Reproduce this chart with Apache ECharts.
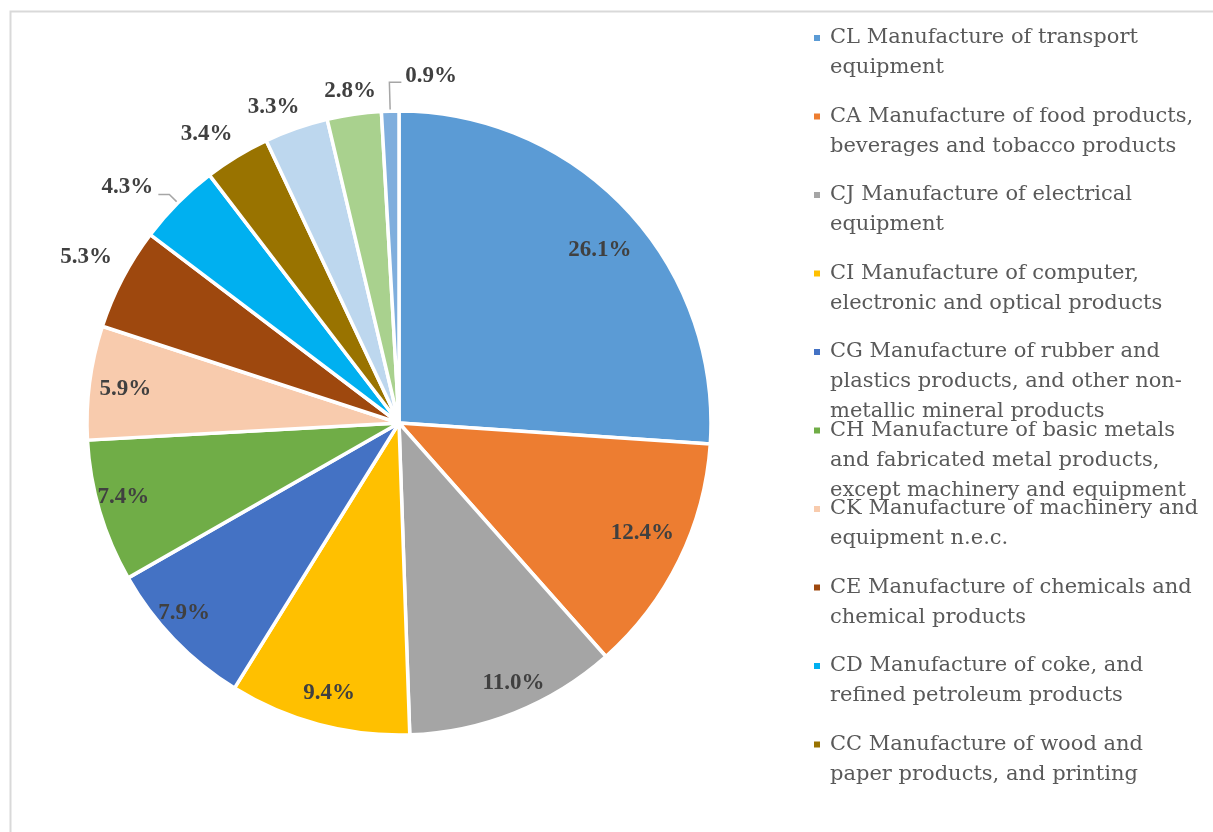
<!DOCTYPE html>
<html><head><meta charset="utf-8">
<script src="https://cdn.jsdelivr.net/npm/echarts@6/dist/echarts.min.js"></script>
<style>html,body{margin:0;padding:0;background:#fff}#chart{width:1213px;height:832px}</style>
</head><body><div id="chart"></div>
<script>
// ---- data ----
const categories = [
  'CL Manufacture of transport\nequipment',
  'CA Manufacture of food products,\nbeverages and tobacco products',
  'CJ Manufacture of electrical\nequipment',
  'CI Manufacture of computer,\nelectronic and optical products',
  'CG Manufacture of rubber and\nplastics products, and other non-\nmetallic mineral products',
  'CH Manufacture of basic metals\nand fabricated metal products,\nexcept machinery and equipment',
  'CK Manufacture of machinery and\nequipment n.e.c.',
  'CE Manufacture of chemicals and\nchemical products',
  'CD Manufacture of coke, and\nrefined petroleum products',
  'CC Manufacture of wood and\npaper products, and printing',
  'CB Manufacture of textiles, apparel,\nleather and related products',
  'CF Manufacture of basic pharmaceutical\nproducts and preparations',
  'CM Other manufacturing, and repair\nand installation of machinery'
];
const shares = [26.1, 12.4, 11.0, 9.4, 7.9, 7.4, 5.9, 5.3, 4.3, 3.4, 3.3, 2.8, 0.9];
const legendNames = categories.slice(0, 10);

// ---- styles ----
const colors = ['#5B9BD5','#ED7D31','#A5A5A5','#FFC000','#4472C4','#70AD47','#F8CBAD','#9E480E','#00B0F0','#997300','#BDD7EE','#A9D18E','#7FAEDD'];
const insideIdx = [0,1,2,3,4,5,6];
const ringOutsideIdx = [7,9,10,11];
const leaderIdx = [8,12];
const innerNudge = {0:[-3,18], 1:[-7,-13], 2:[11,1], 3:[2,0], 4:[-14,-4], 5:[-8,-5], 6:[3,2]};
const outerNudge = {7:[0,-2], 9:[-9,13], 10:[-9,17], 11:[2,17]};
const CX = 399, CY = 423, R = 312;
const LEG_LINE = 30, LEG_FIRST = 38, LEG_STEP = 78.5;

const labelFont = {fontFamily:'Liberation Serif', fontWeight:'bold', fontSize:23, color:'#404040'};
const fmt = p => p.value.toFixed(1) + '%';

const legends = legendNames.map((n, k) => {
  const lines = n.split('\n').length;
  return {
    data:[n], orient:'vertical', left:812,
    top: LEG_FIRST + k*LEG_STEP - LEG_LINE*lines + LEG_LINE/2,
    padding:0, itemWidth:8, itemHeight:8, icon:'rect', selectedMode:false,
    // blank lines above keep the first text line level with the marker
    formatter: name => '\n'.repeat(lines-1) + name,
    textStyle:{fontFamily:'DejaVu Serif', fontSize:21, color:'#595959', lineHeight:LEG_LINE,
      padding:[0,0,0,4]}
  };
});

const chart = echarts.init(document.getElementById('chart'), null, {renderer:'canvas'});
chart.setOption({
  backgroundColor:'#ffffff',
  animation:false,
  graphic:[{type:'rect', left:8, top:9, shape:{x:0,y:0,width:1300,height:900}, style:{fill:'none', stroke:'#D9D9D9', lineWidth:2}, silent:true}],
  legend: legends,
  series:[
    {
      type:'pie', center:[CX,CY], radius:[0,R], startAngle:90, clockwise:true,
      avoidLabelOverlap:false, silent:true,
      itemStyle:{borderColor:'#ffffff', borderWidth:3.5},
      label:Object.assign({position:'outside', formatter:fmt}, labelFont),
      labelLine:{lineStyle:{color:'#A6A6A6', width:1.5}, length:12, length2:11},
      data: categories.map((n,i)=>({
        name:n, value:shares[i], itemStyle:{color:colors[i]},
        label:{show: leaderIdx.includes(i)},
        labelLine: i===12 ? {show:true, length:29, length2:12} : {show: leaderIdx.includes(i)}
      })),
      labelLayout: function(p){
        const pts = p.labelLinePoints;
        if (!pts) return {};
        if (p.dataIndex === 12) {
          const end = [2*pts[1][0]-pts[2][0], pts[2][1]];
          return {x:end[0]+4, y:pts[1][1]-6, align:'left', verticalAlign:'middle', labelLinePoints:[pts[0], pts[1], end]};
        }
        if (p.dataIndex === 8) {
          return {x:pts[2][0]-5, y:pts[2][1]-7, align:'right', verticalAlign:'middle', labelLinePoints:pts};
        }
        return {};
      }
    },
    {
      type:'pie', center:[CX,CY], radius:[240,R], startAngle:90, clockwise:true,
      avoidLabelOverlap:false, silent:true,
      itemStyle:{color:'rgba(0,0,0,0)', borderWidth:0},
      label:Object.assign({position:'inside', formatter:fmt}, labelFont),
      labelLine:{show:false},
      data: categories.map((n,i)=>({name:n, value:shares[i], label:{show: insideIdx.includes(i)}})),
      labelLayout: function(p){
        const d = innerNudge[p.dataIndex];
        return d ? {dx:d[0], dy:d[1]} : {};
      }
    },
    {
      type:'pie', center:[CX,CY], radius:[325,375], startAngle:90, clockwise:true,
      avoidLabelOverlap:false, silent:true,
      itemStyle:{color:'rgba(0,0,0,0)', borderWidth:0},
      label:Object.assign({position:'inside', formatter:fmt}, labelFont),
      labelLine:{show:false},
      data: categories.map((n,i)=>({name:n, value:shares[i], label:{show: ringOutsideIdx.includes(i)}})),
      labelLayout: function(p){
        const d = outerNudge[p.dataIndex];
        return d ? {dx:d[0], dy:d[1]} : {};
      }
    }
  ]
});
</script></body></html>
